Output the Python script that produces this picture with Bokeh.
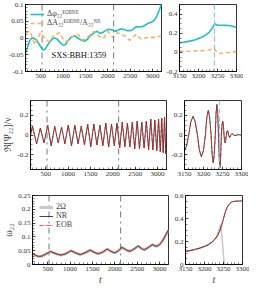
from bokeh.plotting import figure
from bokeh.layouts import column, row
from bokeh.models import (Range1d, FixedTicker, Legend, LegendItem,
                          Span, Label, CustomJSTickFormatter)
from bokeh.embed import file_html
from bokeh.resources import INLINE

FONT = "Liberation Serif"

# ---------------- data ----------------
# top-left: phase difference and relative amplitude difference
dphi_t = [160, 200, 250, 300, 350, 400, 450, 500, 550, 600, 650, 700, 750, 800, 850, 900,
          950, 1000, 1050, 1100, 1150, 1200, 1270, 1330, 1400, 1480, 1550, 1620, 1690, 1760,
          1830, 1880, 1950, 2020, 2100, 2180, 2280, 2350, 2425, 2480, 2530, 2580, 2635, 2700,
          2780, 2830, 2890, 2950, 2990, 3050, 3100, 3150, 3180, 3200]
dphi_v = [-0.045, -0.03, -0.008, 0.0, -0.001, -0.006, -0.015, -0.026, -0.036, -0.033, -0.022,
          -0.012, -0.004, 0.0, -0.002, -0.008, -0.016, -0.021, -0.02, -0.01, -0.002, 0.004,
          0.006, 0.0, -0.006, -0.01, -0.003, 0.008, 0.015, 0.02, 0.014, 0.016, 0.022, 0.026,
          0.024, 0.02, 0.027, 0.026, 0.022, 0.022, 0.023, 0.028, 0.034, 0.033, 0.034, 0.038,
          0.043, 0.046, 0.048, 0.055, 0.067, 0.083, 0.094, 0.1]
damp_t = [160, 263, 368, 494, 578, 683, 788, 914, 1019, 1103, 1229, 1334, 1439, 1544, 1691,
          1796, 1901, 2006, 2111, 2216, 2300, 2384, 2489, 2636, 2741, 2909, 3056, 3200]
damp_v = [0.016, 0.02, -0.02, 0.016, 0.002, -0.012, 0.006, 0.016, -0.007, -0.01, 0.006, 0.011,
          -0.007, 0.002, 0.02, 0.006, -0.001, 0.02, 0.002, 0.016, 0.011, 0.006, -0.007, 0.011,
          -0.003, 0.002, 0.002, 0.006]
# top-right
dphi_r_t = [3150, 3160, 3170, 3180, 3190, 3200, 3210, 3220, 3228, 3235, 3240, 3243, 3246,
            3250, 3260, 3270, 3280, 3290, 3300]
dphi_r_v = [0.10, 0.105, 0.112, 0.12, 0.13, 0.145, 0.16, 0.185, 0.21, 0.245, 0.28, 0.3, 0.29,
            0.285, 0.283, 0.282, 0.28, 0.272, 0.262]
damp_r_t = [3150, 3180, 3210, 3230, 3242, 3248, 3255, 3270, 3300]
damp_r_v = [0.01, 0.012, 0.018, 0.028, 0.038, 0.0, -0.012, -0.005, 0.01]

# middle: Re[Psi22]/nu (extrema of the oscillation)
wave_t = [160, 203, 297, 380, 462, 545, 623, 701, 779, 854, 929, 1004, 1077, 1150, 1223, 1295,
          1366, 1438, 1507, 1576, 1645, 1711, 1777, 1843, 1907, 1971, 2033, 2093, 2154, 2211,
          2269, 2326, 2381, 2435, 2490, 2544, 2596, 2648, 2699, 2749, 2800, 2849, 2895, 2940,
          2982, 3023, 3062, 3094, 3126, 3157, 3183, 3200]
wave_v = [0.0, 0.09, -0.09, 0.07, -0.08, 0.10, -0.11, 0.09, -0.08, 0.08, -0.09, 0.10, -0.11,
          0.10, -0.09, 0.09, -0.10, 0.11, -0.12, 0.11, -0.10, 0.10, -0.11, 0.12, -0.12, 0.11,
          -0.11, 0.12, -0.13, 0.13, -0.12, 0.12, -0.12, 0.13, -0.14, 0.14, -0.14, 0.13, -0.13,
          0.14, -0.15, 0.16, -0.15, 0.15, -0.16, 0.16, -0.17, 0.17, -0.18, 0.18, -0.19, 0.0]
wave_r_t = [3150, 3155.5, 3161, 3166.7, 3172.5, 3178.2, 3184, 3189.2, 3194.5, 3199.8, 3205,
            3208.7, 3212.5, 3216.2, 3220, 3222.7, 3225.5, 3228.2, 3231, 3233.1, 3235.2, 3237.4,
            3239.5, 3241.4, 3243.2, 3245.1, 3247, 3248.7, 3250.5, 3252.3, 3254, 3255.5, 3257,
            3258.5, 3260, 3261.5, 3263, 3264.5, 3266, 3269, 3272, 3275.5, 3279, 3283, 3290,
            3300]
wave_r_v = [-0.16, -0.11, 0.0, 0.134, 0.19, 0.134, 0.0, -0.156, -0.22, -0.156, 0.0,
            0.177, 0.25, 0.177, 0.0, -0.198, -0.28, -0.198, 0.0, 0.22, 0.31, 0.22,
            0.0, -0.233, -0.33, -0.233, 0.0, 0.10, 0.14, 0.10, 0.0, -0.057, -0.08,
            -0.057, 0.0, 0.032, 0.045, 0.032, 0.0, -0.025, 0.0, 0.014, 0.0, -0.007, 0.003,
            0.0]

# bottom: omega22
om_t = [160, 230, 300, 380, 460, 560, 640, 720, 800, 900, 1020, 1100, 1170, 1230, 1330, 1450,
        1530, 1590, 1640, 1740, 1830, 1900, 1950, 2000, 2080, 2160, 2230, 2290, 2340, 2430,
        2520, 2580, 2620, 2660, 2750, 2840, 2890, 2940, 3000, 3050, 3100, 3150, 3200]
om_v = [0.040, 0.033, 0.029, 0.031, 0.038, 0.047, 0.042, 0.037, 0.034, 0.039, 0.050, 0.044,
        0.039, 0.036, 0.042, 0.052, 0.045, 0.041, 0.039, 0.046, 0.056, 0.049, 0.045, 0.042,
        0.050, 0.062, 0.055, 0.050, 0.048, 0.056, 0.067, 0.060, 0.056, 0.053, 0.062, 0.072,
        0.068, 0.066, 0.072, 0.082, 0.095, 0.11, 0.125]
om_r_t = [3150, 3160, 3170, 3180, 3190, 3200, 3210, 3220, 3230, 3235, 3240, 3245, 3250, 3255,
          3260, 3265, 3270, 3275, 3280, 3290, 3300]
om_r_v = [0.115, 0.12, 0.127, 0.135, 0.145, 0.157, 0.172, 0.195, 0.23, 0.255, 0.29, 0.34,
          0.40, 0.46, 0.50, 0.525, 0.54, 0.547, 0.55, 0.552, 0.553]
orb_r_t = [3150, 3160, 3170, 3180, 3190, 3200, 3210, 3220, 3230, 3235, 3240, 3243, 3247, 3251,
           3253]
orb_r_v = [0.115, 0.12, 0.127, 0.135, 0.145, 0.157, 0.172, 0.195, 0.235, 0.27, 0.32, 0.35,
           0.2, 0.03, 0.0]

vline_t = [530, 2130]
peak_t = 3242
sim_label = "SXS:BBH:1359"

x_left_ticks = [500, 1000, 1500, 2000, 2500, 3000]
x_right_ticks = [3150, 3200, 3250, 3300]

C_CYAN = "#1fbfc4"
C_ORANGE = "#fbb066"
C_NR = "#1a1a1a"
C_EOB = "#e3262b"
C_ORB = "#c8c8c8"
C_PEAK = "#8cc4e8"

fmt = CustomJSTickFormatter(code="return String(Math.round(tick*1000)/1000);")


def style_axis(ax):
    ax.axis_line_color = "black"
    ax.axis_line_width = 0.8
    ax.major_tick_in = 3
    ax.major_tick_out = 0
    ax.minor_tick_in = 2
    ax.minor_tick_out = 0
    ax.major_tick_line_width = 0.6
    ax.minor_tick_line_width = 0.5
    ax.major_label_text_font = FONT
    ax.major_label_text_color = "#333333"
    ax.major_label_standoff = 2
    ax.major_label_text_font_size = "7px"
    ax.axis_label_text_font = FONT
    ax.axis_label_text_font_style = "normal"
    ax.axis_label_standoff = 1


def make_fig(fw, fh, xr, yr, xt, yt, borders):
    p = figure(frame_width=fw, frame_height=fh, x_range=Range1d(*xr), y_range=Range1d(*yr),
               output_backend="svg", toolbar_location=None, title=None,
               min_border_left=borders[0], min_border_right=borders[1],
               min_border_top=borders[2], min_border_bottom=borders[3])
    p.grid.visible = False
    p.outline_line_color = "black"
    p.outline_line_width = 0.8
    p.background_fill_color = "white"
    p.border_fill_color = "white"
    xa = p.below[0]
    ya = p.left[0]
    xa.ticker = xt
    ya.ticker = yt
    xa.formatter = fmt
    ya.formatter = fmt
    style_axis(xa)
    style_axis(ya)
    return p


def tick(major, minor):
    return FixedTicker(ticks=major, minor_ticks=minor)


def t_label(p):
    ax = p.below[0]
    ax.axis_label = "t"
    ax.axis_label_text_font_style = "italic"
    ax.axis_label_text_font_size = "10px"
    ax.axis_label_standoff = 0


xl_minor = list(range(200, 3201, 100))
xr_minor = list(range(3150, 3301, 10))

# widths: left figure 25+136+2 = 163, right figure 15+57+7 = 79 -> 242
FWL, FWR = 136, 57
BL = (25, 2)
BR = (15, 7)

# ---------------- row 1 (4 + 67 + 12 = 83) ----------------
FH1 = 67
p1 = make_fig(FWL, FH1, (160, 3200), (-0.1, 0.1),
              tick(x_left_ticks, xl_minor),
              tick([-0.1, -0.05, 0, 0.05, 0.1], [i / 100 for i in range(-10, 11)]),
              (BL[0], BL[1], 4, 12))
for t in vline_t:
    p1.add_layout(Span(location=t, dimension="height", line_color="#555555",
                       line_dash="dashdot", line_width=0.8))
r_phi = p1.line(dphi_t, dphi_v, line_color=C_CYAN, line_width=1.6)
r_amp = p1.line(damp_t, damp_v, line_color=C_ORANGE, line_width=1.6, line_dash="4 3")
p1.add_layout(Label(x=740, y=-0.05, text=sim_label, text_font=FONT, text_font_size="8.5px",
                    text_baseline="middle", text_color="#111111"))
leg1 = Legend(items=[LegendItem(label="Δφ₂₂ᴱᴼᴮᴺᴿ", renderers=[r_phi]),
                     LegendItem(label="ΔA₂₂ᴱᴼᴮᴺᴿ/A₂₂ᴺᴿ", renderers=[r_amp])],
              location="top_left", border_line_alpha=0, background_fill_alpha=0,
              label_text_font=FONT, label_text_font_size="8px", glyph_width=14,
              glyph_height=8, label_height=9, spacing=0, padding=2, margin=3,
              label_standoff=3)
p1.add_layout(leg1)

p2 = make_fig(FWR, FH1, (3150, 3300), (-0.2, 0.5),
              tick(x_right_ticks, xr_minor),
              tick([-0.2, 0, 0.2, 0.4], [i / 20 for i in range(-4, 11)]),
              (BR[0], BR[1], 4, 12))
p2.add_layout(Span(location=peak_t, dimension="height", line_color=C_PEAK,
                   line_dash="5 3", line_width=1.2))
p2.line(dphi_r_t, dphi_r_v, line_color=C_CYAN, line_width=1.6)
p2.line(damp_r_t, damp_r_v, line_color=C_ORANGE, line_width=1.6, line_dash="4 3")

# ---------------- row 2 (17 + 69 + 12 = 98) ----------------
FH2 = 69
p3 = make_fig(FWL, FH2, (160, 3200), (-0.35, 0.35),
              tick(x_left_ticks, xl_minor),
              tick([-0.2, 0, 0.2], [i / 20 for i in range(-6, 7)]),
              (BL[0], BL[1], 17, 12))
for t in vline_t:
    p3.add_layout(Span(location=t, dimension="height", line_color="#555555",
                       line_dash="dashdot", line_width=0.8))
p3.line(wave_t, wave_v, line_color=C_NR, line_width=0.8)
p3.line(wave_t, wave_v, line_color=C_EOB, line_width=0.8, line_dash="3 2")
p3.left[0].axis_label = "ℜ[Ψ₂₂]/ν"
p3.left[0].axis_label_text_font_size = "9.5px"

p4 = make_fig(FWR, FH2, (3150, 3300), (-0.35, 0.35),
              tick(x_right_ticks, xr_minor),
              tick([-0.2, 0, 0.2], [i / 20 for i in range(-6, 7)]),
              (BR[0], BR[1], 17, 12))
p4.add_layout(Span(location=peak_t, dimension="height", line_color=C_PEAK,
                   line_dash="5 3", line_width=1.0))
p4.line(wave_r_t, wave_r_v, line_color=C_NR, line_width=0.8)
p4.line(wave_r_t, wave_r_v, line_color=C_EOB, line_width=0.8, line_dash="3 2")

# ---------------- row 3 (14 + 69 + 21 = 104) ----------------
FH3 = 69
p5 = make_fig(FWL, FH3, (160, 3200), (0, 0.25),
              tick(x_left_ticks, xl_minor),
              tick([0, 0.05, 0.1, 0.15, 0.2, 0.25], [i / 100 for i in range(0, 26)]),
              (BL[0], BL[1], 14, 21))
for t in vline_t:
    p5.add_layout(Span(location=t, dimension="height", line_color="#555555",
                       line_dash="dashdot", line_width=0.8))
r_orb = p5.line(om_t, om_v, line_color=C_ORB, line_width=3)
r_nr = p5.line(om_t, om_v, line_color=C_NR, line_width=0.8)
r_eob = p5.line(om_t, om_v, line_color=C_EOB, line_width=0.8, line_dash="4 1 1 1")
p5.left[0].axis_label = "ω₂₂"
p5.left[0].axis_label_text_font_size = "10px"
t_label(p5)
leg5 = Legend(items=[LegendItem(label="2Ω", renderers=[r_orb]),
                     LegendItem(label="NR", renderers=[r_nr]),
                     LegendItem(label="EOB", renderers=[r_eob])],
              location="top_left", border_line_alpha=0, background_fill_alpha=0,
              label_text_font=FONT, label_text_font_size="8px", glyph_width=14,
              glyph_height=8, label_height=9, spacing=0, padding=2, margin=5,
              label_standoff=3)
p5.add_layout(leg5)

p6 = make_fig(FWR, FH3, (3150, 3300), (0, 0.6),
              tick(x_right_ticks, xr_minor),
              tick([0, 0.2, 0.4, 0.6], [i / 20 for i in range(0, 13)]),
              (BR[0], BR[1], 14, 21))
p6.line(orb_r_t, orb_r_v, line_color=C_ORB, line_width=1.5)
p6.line(om_r_t, om_r_v, line_color=C_NR, line_width=0.8)
p6.line(om_r_t, om_r_v, line_color=C_EOB, line_width=0.8, line_dash="4 1 1 1")
t_label(p6)

layout = column(row(p1, p2), row(p3, p4), row(p5, p6))
open("out.html", "w").write(file_html(layout, INLINE))
